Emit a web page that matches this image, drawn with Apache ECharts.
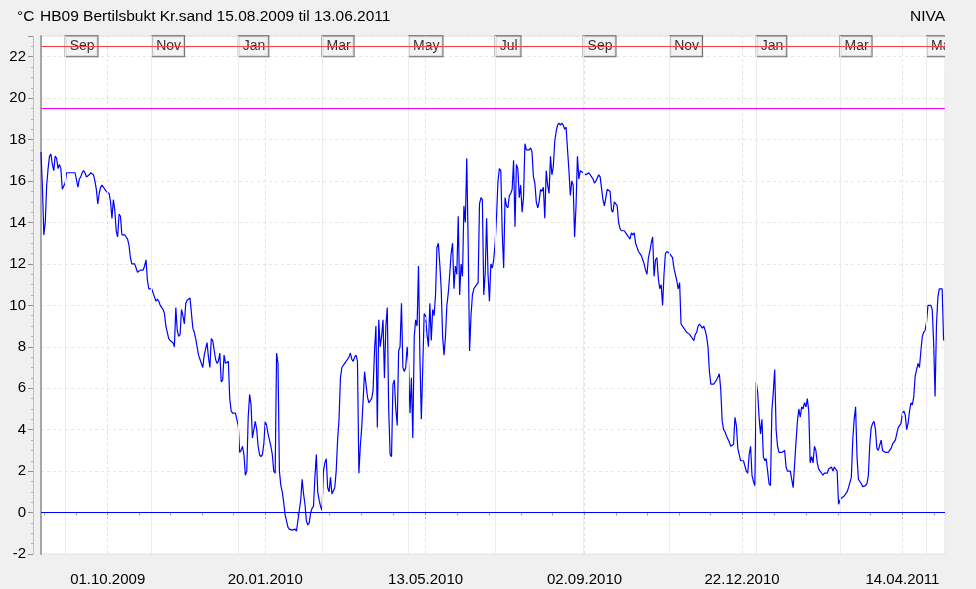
<!DOCTYPE html>
<html>
<head>
<meta charset="UTF-8">
<script src="https://cdn.jsdelivr.net/npm/echarts@6/dist/echarts.min.js"></script>
<style>
  html, body { margin: 0; padding: 0; background: #f0f0f0; }
  #chart { width: 976px; height: 589px; }
</style>
</head>
<body>
<div id="chart"></div>
<script>
// måleserie: ett avlest tall per døgn fra 15.08.2009
// tempsEven = døgn 0, 2, 4 ...   tempsOdd = døgn 1, 3, 5 ...
var START = Date.UTC(2009, 7, 15);
var END = Date.UTC(2011, 4, 14);
var DAY = 86400000;

var tempsEven = [
  17.4, 13.4, 15.8, 17.2, 16.8, 17.2, 16.6, 16.6, 15.6, 16.4,
  16.4, 16.4, 16.4, 15.7, 16.2, 16.5, 16.2, 16.3, 16.4, 16.0,
  14.9, 15.7, 15.7, 15.5, 15.4, 14.2, 14.6, 13.3, 14.3, 13.4,
  13.3, 12.9, 12.0, 12.0, 11.6, 11.7, 11.7, 12.2, 10.8, 10.8,
  10.4, 10.3, 10.0, 9.8, 9.0, 8.4, 8.3, 8.0, 8.8, 8.6,
  9.5, 10.1, 10.3, 10.4, 8.7, 8.0, 7.4, 7.0, 7.9, 7.5,
  8.4, 8.3, 7.2, 7.7, 6.4, 7.2,
  7.3, 4.9, 4.8, 4.8, 2.9, 3.2, 1.8, 4.6, 5.2, 3.6,
  4.0, 2.8, 2.8, 4.4, 3.8, 3.2, 2.0, 7.7, 2.0, 1.0,
  -0.1, -0.7, -0.85, -0.8, -0.9, 0.1, 1.6, 0.4, -0.6, 0.0,
  0.3, 2.8, 0.6, 0.1, 2.4, 1.2, 1.7, 0.9, 2.0, 4.5,
  7.0, 7.2, 7.4, 7.7, 7.3, 7.6, 1.9, 4.1, 6.8, 5.6,
  5.3, 5.9, 9.0, 9.3, 8.5, 6.5, 9.9, 2.8, 6.2, 5.0,
  7.8, 10.1, 6.8, 8.0, 4.8,
  3.6, 9.3, 11.9, 4.5, 9.6, 8.6, 10.1, 9.8, 10.5, 13.0,
  10.8, 7.6, 10.0, 11.5, 13.0, 11.9, 14.3, 12.0, 14.8, 17.1,
  7.8, 10.5, 10.9, 11.1, 15.2, 10.5, 14.2, 10.2, 11.8, 13.0,
  16.0, 16.5, 11.8, 14.8, 15.3, 15.6, 13.8, 16.6, 15.8, 15.2,
  17.5, 17.5, 17.4, 15.9, 14.7, 15.6, 15.7, 16.5, 15.4, 16.3,
  17.9, 18.7, 18.7, 18.7, 18.6, 16.5, 16.0, 13.3, 17.2, 16.5,
  16.4, 16.3, 16.4, 16.2, 15.9, 16.0,
  16.2, 15.1, 15.2, 15.6, 14.6, 15.0, 14.8, 13.7, 13.6, 13.5,
  13.3, 13.5, 13.5, 12.8, 12.5, 12.2, 11.7, 12.3, 13.0, 11.4,
  12.3, 10.8, 10.0, 12.5, 12.6, 12.5, 11.8, 11.2, 11.1, 9.0,
  8.8, 8.7, 8.5, 8.3, 8.7, 9.1, 8.9, 8.8, 8.0, 6.2,
  6.2, 6.4, 6.7, 4.4, 3.9, 3.7, 3.2, 3.3, 4.2, 2.8,
  2.5, 2.5, 1.9, 3.2, 1.5, 6.3, 4.6, 4.5, 2.5, 2.6,
  1.3, 5.8, 4.0, 2.9, 2.9, 3.0,
  2.0, 2.0, 1.2, 3.4, 5.0, 5.1, 5.3, 5.5, 2.4, 2.4,
  3.0, 2.1, 2.0, 1.9, 1.9, 2.1, 2.0, 2.2, 0.4, 0.7,
  0.8, 1.0, 1.2, 3.5, 5.1, 1.6, 1.4, 1.25, 1.4, 3.3,
  4.3, 4.0, 3.0, 3.5, 3.0, 2.9, 3.0, 3.3, 3.5, 4.1,
  4.3, 4.9, 4.0, 4.9, 5.2, 6.6, 7.2, 7.8, 8.7, 9.2,
  10.0, 9.8, 5.6, 10.4, 10.8, 8.3
];

var tempsOdd = [
  15.7, 14.0, 16.6, 17.3, 16.5, 17.1, 16.8, 15.6, 15.9, 16.4,
  16.4, 16.4, 16.4, 16.1, 16.4, 16.4, 16.2, 16.4, 16.3, 15.6,
  15.4, 15.8, 15.6, 15.5, 15.0, 15.1, 13.6, 14.4, 13.4, 13.4,
  13.2, 12.3, 12.0, 11.8, 11.6, 11.7, 11.9, 11.2, 10.75, 10.75,
  10.2, 10.2, 9.9, 9.6, 8.7, 8.3, 8.2, 9.9, 8.5, 9.8,
  9.1, 10.25, 10.35, 8.9, 8.4, 7.6, 7.2, 7.6, 8.2, 7.0,
  8.3, 7.4, 7.3, 6.3, 7.6, 7.2, 5.5, 4.8, 4.8, 4.2,
  3.0, 2.8, 2.0, 5.7, 3.6, 4.4, 3.2, 2.7, 3.3, 4.2,
  3.5, 2.8, 1.9, 7.2, 1.3, 0.5, -0.4, -0.8, -0.85, -0.8,
  -0.9, 0.6, 0.9, -0.4, -0.5, 0.2, 1.7, 1.0, 0.3, 2.0,
  2.6, 1.0, 0.9, 1.2, 3.5, 6.5, 7.0, 7.2, 7.5, 7.4,
  7.5, 7.3, 3.2, 4.1, 6.2, 5.3, 5.5, 7.8, 4.1, 8.0,
  9.3, 9.0, 5.0, 2.7, 6.4, 4.2, 8.0, 7.0, 7.0, 7.2,
  6.5, 8.5, 9.0, 7.5, 7.0, 9.5, 8.0, 8.3, 9.5, 12.8,
  12.0, 8.5, 8.5, 10.6, 12.5, 10.8, 11.5, 10.5, 11.4, 14.0,
  13.0, 9.5, 10.8, 11.0, 14.9, 15.1, 11.5, 11.5, 12.0, 12.2,
  14.3, 16.6, 13.5, 15.2, 14.7, 15.4, 17.0, 16.8, 15.2, 14.5,
  17.8, 17.5, 17.6, 16.2, 15.0, 15.0, 15.5, 14.2, 15.8, 17.2,
  16.7, 18.4, 18.8, 18.8, 18.5, 18.6, 15.3, 15.8, 14.8, 16.1,
  16.5, 16.4, 16.3, 16.4, 16.1, 16.0, 16.3, 16.2, 14.8, 15.6,
  15.5, 14.5, 15.0, 14.0, 13.6, 13.6, 13.4, 13.2, 13.4, 13.0,
  12.6, 12.4, 12.0, 11.5, 12.6, 13.3, 12.2, 11.3, 11.0, 11.5,
  12.6, 12.5, 12.3, 11.8, 10.8, 9.1, 8.9, 8.7, 8.6, 8.4,
  8.6, 9.0, 9.1, 9.0, 8.5, 6.8, 6.2, 6.3, 6.4, 5.9,
  4.0, 3.7, 3.4, 3.2, 4.6, 3.1, 2.5, 2.5, 2.0, 2.8,
  1.8, 1.3, 5.8, 3.8, 2.7, 2.6, 1.4, 4.9, 6.9, 3.2,
  2.9, 2.9, 2.2, 2.0, 1.6, 1.2, 4.4, 4.6, 5.0, 5.1,
  4.9, 2.7, 3.2, 2.4, 2.0, 1.8, 1.9, 2.1, 2.2, 2.2,
  2.0, 0.6, 0.75, 0.9, 1.2, 1.7, 4.5, 2.7, 1.5, 1.25,
  1.3, 1.8, 4.1, 4.4, 3.1, 3.0, 3.0, 2.9, 2.9, 3.1,
  3.4, 3.5, 4.2, 4.8, 4.7, 4.3, 5.3, 5.6, 6.9, 7.0,
  8.5, 8.8, 10.0, 10.0, 8.2, 9.1, 10.8, 10.8
];

var tickDates = ['01.10.2009', '20.01.2010', '13.05.2010', '02.09.2010', '22.12.2010', '14.04.2011'];
var monthStarts = ['01.09.2009', '01.11.2009', '01.01.2010', '01.03.2010', '01.05.2010', '01.07.2010',
                   '01.09.2010', '01.11.2010', '01.01.2011', '01.03.2011', '01.05.2011'];
var monthNames = ['Sep', 'Nov', 'Jan', 'Mar', 'May', 'Jul', 'Sep', 'Nov', 'Jan', 'Mar', 'May'];
var redLevel = 22.5;
var magentaLevel = 19.5;
var zeroLevel = 0;

function ts(s) {
  var p = s.split('.');
  return Date.UTC(+p[2], +p[1] - 1, +p[0]);
}
function fmt(v) {
  var d = new Date(v);
  var dd = ('0' + d.getUTCDate()).slice(-2);
  var mm = ('0' + (d.getUTCMonth() + 1)).slice(-2);
  return dd + '.' + mm + '.' + d.getUTCFullYear();
}

var majorTs = tickDates.map(ts);
// små streker: fem deler mellom hver datoetikett
var minorTs = [];
for (var k = 0; k < majorTs.length - 1; k++) {
  var st = (majorTs[k + 1] - majorTs[k]) / 5;
  for (var j = 1; j < 5; j++) minorTs.push(majorTs[k] + j * st);
}
var step0 = (majorTs[1] - majorTs[0]) / 5;
for (var t = majorTs[0] - step0; t >= START; t -= step0) minorTs.push(t);
var stepN = (majorTs[majorTs.length - 1] - majorTs[majorTs.length - 2]) / 5;
for (var t2 = majorTs[majorTs.length - 1] + stepN; t2 <= END; t2 += stepN) minorTs.push(t2);
minorTs.sort(function (a, b) { return a - b; });

// flett partall- og oddetallsdøgn sammen
var seriesData = [];
for (var d = 0; d < tempsEven.length + tempsOdd.length; d++) {
  var v = (d % 2 === 0) ? tempsEven[d / 2] : tempsOdd[(d - 1) / 2];
  seriesData.push([START + d * DAY, v]);
}
var monthData = monthStarts.map(function (s, i) { return [ts(s), redLevel, monthNames[i]]; });

var vLines = [];
monthStarts.forEach(function (s) {
  vLines.push({ xAxis: ts(s), lineStyle: { color: '#ececec', type: 'solid', width: 1 } });
});
tickDates.forEach(function (s) {
  vLines.push({ xAxis: ts(s), lineStyle: { color: '#e2e2e2', type: [3, 3], width: 1 } });
});

var chart = echarts.init(document.getElementById('chart'));
var font = 'Liberation Sans, Arial, sans-serif';
var titleStyle = { fontSize: 15.5, fontWeight: 'normal', color: '#000', fontFamily: font };

chart.setOption({
  animation: false,
  backgroundColor: '#f0f0f0',
  title: [
    { text: '°C', left: 17, top: 9, padding: 0, textStyle: titleStyle },
    { text: 'HB09 Bertilsbukt Kr.sand 15.08.2009 til 13.06.2011', left: 40, top: 9, padding: 0, textStyle: titleStyle },
    { text: 'NIVA', right: 31, top: 9, padding: 0, textStyle: titleStyle }
  ],
  grid: {
    left: 41, right: 31, top: 36, bottom: 35,
    show: true, backgroundColor: '#ffffff', borderColor: '#e2e2e2', borderWidth: 1
  },
  xAxis: [
    {
      type: 'value', min: START, max: END, position: 'bottom', offset: 8,
      axisLine: { show: true, lineStyle: { color: '#b4b4b4', type: 'dotted' } },
      axisTick: { show: true, customValues: majorTs, length: 6, lineStyle: { color: '#909090' } },
      axisLabel: { customValues: majorTs, formatter: fmt, fontSize: 15, color: '#000', margin: 10, fontFamily: font },
      splitLine: { show: false }
    },
    {
      type: 'value', min: START, max: END, position: 'bottom', offset: 8,
      axisLine: { show: false },
      axisTick: { show: true, customValues: minorTs, length: 3, lineStyle: { color: '#a8a8a8' } },
      axisLabel: { show: false },
      splitLine: { show: false }
    }
  ],
  yAxis: [
    {
      type: 'value', min: -2, max: 23, interval: 2, offset: 8,
      axisLine: { show: true, lineStyle: { color: '#b4b4b4', type: 'dotted' } },
      axisTick: { show: true, length: 5, lineStyle: { color: '#909090' } },
      minorTick: { show: true, splitNumber: 4, length: 2, lineStyle: { color: '#b0b0b0' } },
      axisLabel: { fontSize: 15, color: '#000', margin: 7, fontFamily: font, showMaxLabel: false },
      splitLine: { show: true, lineStyle: { color: '#e6e6e6', type: [3, 3] } }
    },
    {
      type: 'value', min: -2, max: 23, position: 'left', offset: 0,
      axisLine: { show: true, lineStyle: { color: '#a6a6a6', width: 2 } },
      axisTick: { show: false }, axisLabel: { show: false }, splitLine: { show: false }
    }
  ],
  series: [
    {
      type: 'scatter', data: monthData, symbolSize: 1, z: 2,
      itemStyle: { color: 'rgba(0,0,0,0)' },
      label: {
        show: true, position: 'right', distance: 0,
        formatter: function (p) { return p.data[2]; },
        backgroundColor: '#f0f0f0', borderColor: '#444', borderWidth: 1,
        padding: [3, 3, 3, 4], lineHeight: 14, fontSize: 14, color: '#000', fontFamily: font
      },
      markLine: { silent: true, symbol: 'none', label: { show: false }, data: vLines }
    },
    {
      type: 'line', data: seriesData, showSymbol: false, z: 3,
      lineStyle: { color: '#0000ff', width: 1.2 },
      markLine: {
        silent: true, symbol: 'none', label: { show: false },
        data: [
          { yAxis: redLevel, lineStyle: { color: '#ff4040', type: 'solid', width: 1 } },
          { yAxis: magentaLevel, lineStyle: { color: '#ff00ff', type: 'solid', width: 1 } },
          { yAxis: zeroLevel, lineStyle: { color: '#0000ff', type: 'solid', width: 1 } }
        ]
      }
    }
  ],
  graphic: [
    { type: 'rect', right: 0, top: 30, shape: { width: 31, height: 40 }, style: { fill: '#f0f0f0' }, z: 100 }
  ]
});
</script>
</body>
</html>
